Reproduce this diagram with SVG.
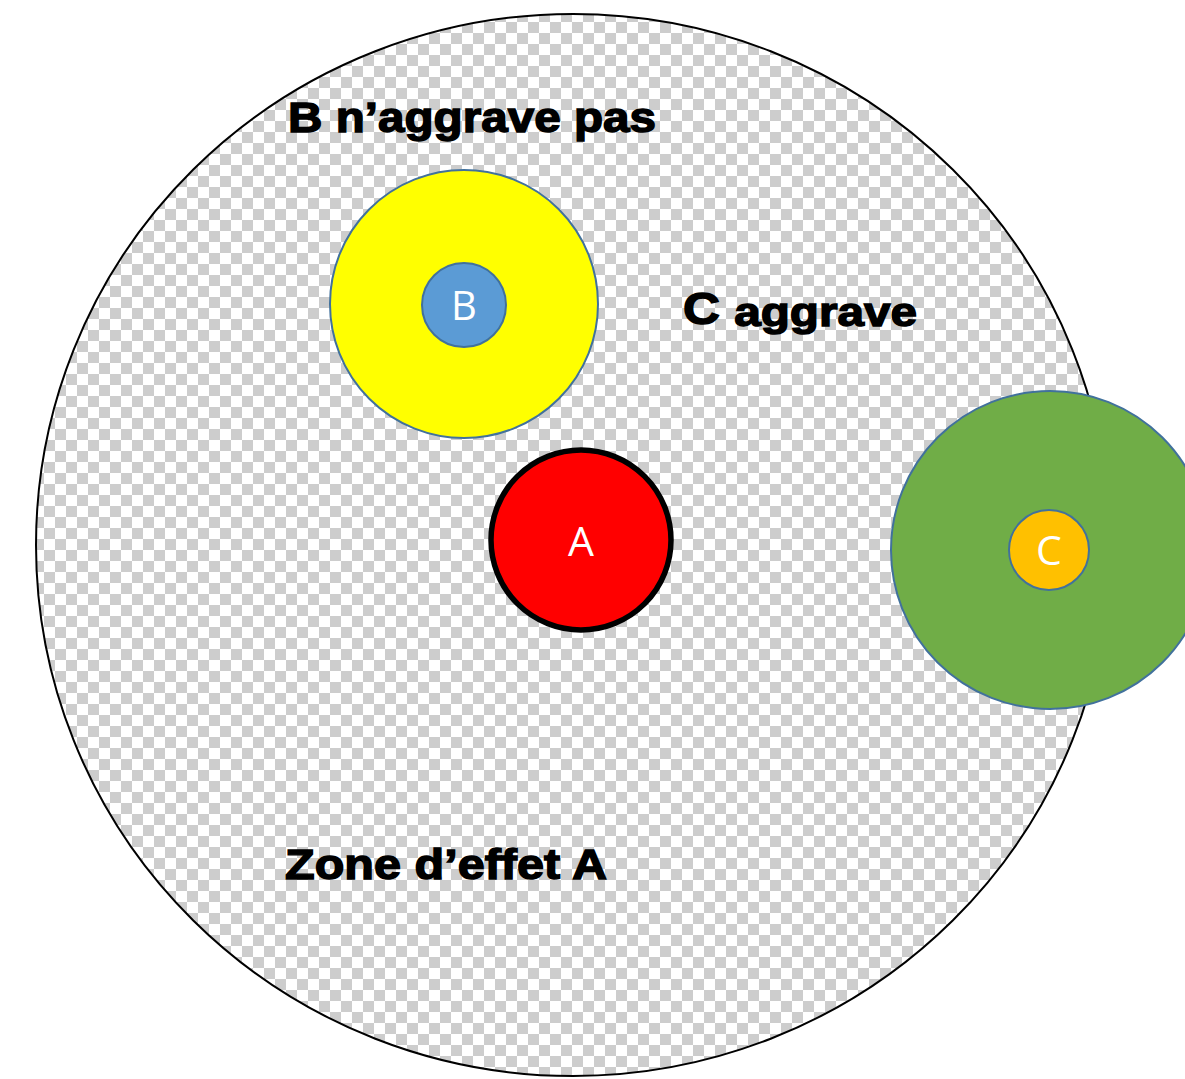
<svg xmlns="http://www.w3.org/2000/svg" width="1185" height="1079" viewBox="0 0 1185 1079">
<defs>
<pattern id="checker" x="0" y="0" width="22" height="22" patternUnits="userSpaceOnUse">
<rect x="0" y="0" width="22" height="22" fill="#ffffff"/>
<rect x="0" y="0" width="11" height="11" fill="#cdcdcd"/>
<rect x="11" y="11" width="11" height="11" fill="#cdcdcd"/>
</pattern>
</defs>
<style>
.zone{fill:url(#checker);stroke:#000;stroke-width:2}
.lbl{font-family:"Liberation Sans",Arial,sans-serif;font-weight:bold;fill:#000;stroke:#000;stroke-width:1.4}
.node{stroke:#41719c;stroke-width:2}
.ntxt{font-family:"Open Sans","Noto Sans",sans-serif;fill:#fff;text-anchor:middle}
</style>
<rect width="1185" height="1079" fill="#fff"/>
<g id="zone-A">
<ellipse class="zone" cx="573" cy="545" rx="537" ry="531"/>
</g>
<g id="labels">
<text class="lbl" x="288" y="132" font-size="42" textLength="368" lengthAdjust="spacingAndGlyphs">B n’aggrave pas</text>
<text class="lbl" x="683" y="324" font-size="44" textLength="234" lengthAdjust="spacingAndGlyphs">C <tspan font-size="41" dy="2">aggrave</tspan></text>
<text class="lbl" x="285" y="879" font-size="42" textLength="322" lengthAdjust="spacingAndGlyphs">Zone d’effet A</text>
</g>
<g id="connectors"></g>
<g id="node-B-zone">
<circle class="node" cx="464" cy="304" r="134" fill="#ffff00"/>
</g>
<g id="node-B">
<circle class="node" cx="464" cy="305" r="42" fill="#5b9bd5"/>
<text class="ntxt" x="464" y="320" font-size="40">B</text>
</g>
<g id="node-A">
<circle cx="581" cy="540" r="90" fill="#ff0000" stroke="#000" stroke-width="5.5"/>
<text class="ntxt" x="581" y="556" font-size="41">A</text>
</g>
<g id="node-C-zone">
<circle class="node" cx="1050" cy="550" r="159" fill="#70ad47"/>
</g>
<g id="node-C">
<circle class="node" cx="1049" cy="550" r="40" fill="#ffc000"/>
<text class="ntxt" x="1049" y="565" font-size="41">C</text>
</g>
</svg>
